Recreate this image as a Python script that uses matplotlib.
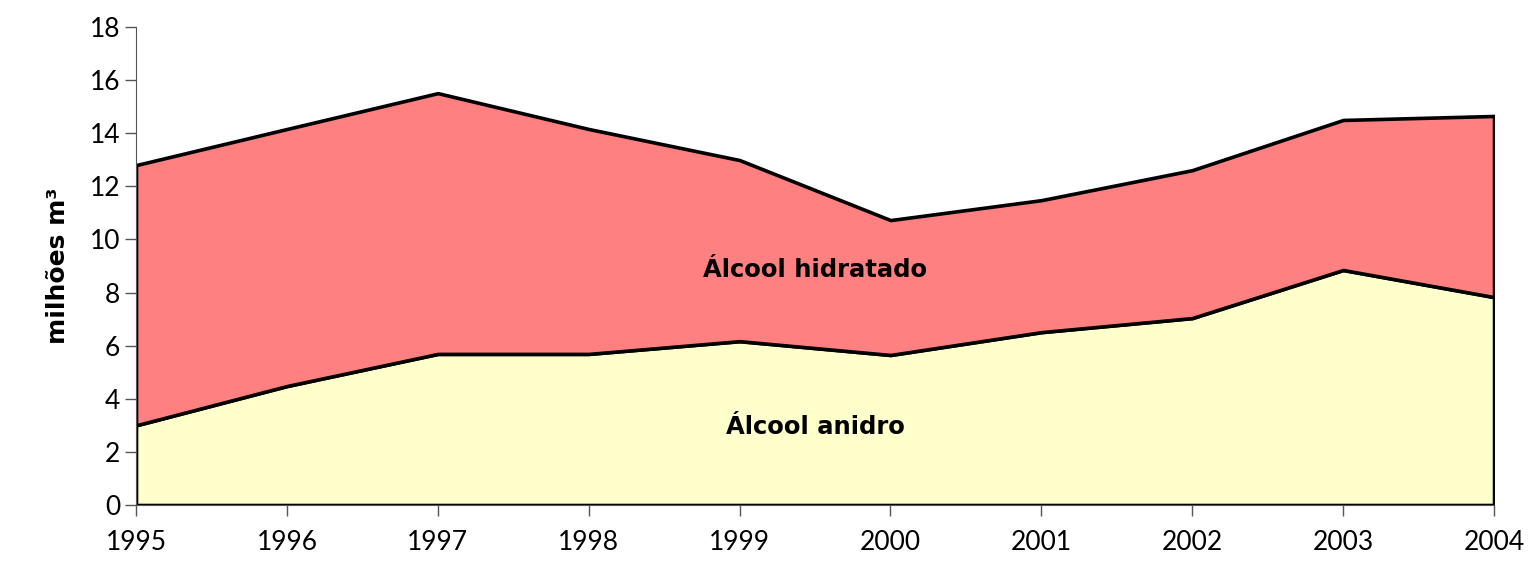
import matplotlib.pyplot as plt

# dados (milhões de m³)
anos = [1995, 1996, 1997, 1998, 1999, 2000, 2001, 2002, 2003, 2004]
anidro = [3.0, 4.48, 5.69, 5.69, 6.17, 5.65, 6.51, 7.04, 8.85, 7.83]
total = [12.8, 14.16, 15.51, 14.16, 12.99, 10.73, 11.48, 12.61, 14.5, 14.65]
hidratado = [t - a for t, a in zip(total, anidro)]

plt.rcParams['font.family'] = ['Lato', 'DejaVu Sans']

fig = plt.figure(figsize=(15.3, 5.63), dpi=100)
ax = fig.add_axes([0.0889, 0.103, 0.8876, 0.849])

ax.stackplot(anos, anidro, hidratado,
             colors=['#FFFFCC', '#FF8080'],
             edgecolor='black', linewidth=2.6)

ax.set_xlim(1995, 2004)
ax.set_ylim(0, 18)
ax.set_xticks(anos)
ax.set_yticks(range(0, 19, 2))

for s in ['top', 'right']:
    ax.spines[s].set_visible(False)
ax.spines['left'].set_color('#555555')
ax.spines['bottom'].set_color('#555555')
ax.tick_params(axis='both', colors='#555555', labelcolor='black',
               labelsize=19, length=8, width=1)
ax.tick_params(axis='x', pad=10)

bold = dict(family=['DejaVu Sans'], fontweight='bold')
ax.set_ylabel('milhões m³', fontsize=18, labelpad=14, **bold)

ax.text(1999.5, 8.85, 'Álcool hidratado', ha='center', va='center',
        fontsize=17.5, **bold)
ax.text(1999.5, 2.94, 'Álcool anidro', ha='center', va='center',
        fontsize=17.5, **bold)

plt.savefig('out.png', dpi=100)
